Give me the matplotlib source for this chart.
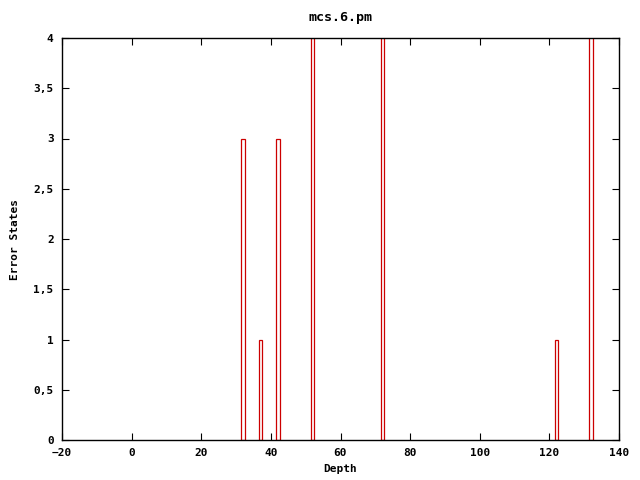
import matplotlib.pyplot as plt

depth = [32, 37, 42, 52, 72, 122, 132]
errors = [3, 1, 3, 5, 5, 1, 5]
xticks = [-20, 0, 20, 40, 60, 80, 100, 120, 140]
yticks = [0, 0.5, 1, 1.5, 2, 2.5, 3, 3.5, 4]
ylabels = ["0", "0,5", "1", "1,5", "2", "2,5", "3", "3,5", "4"]

plt.rcParams['font.family'] = 'DejaVu Sans Mono'
plt.rcParams['font.weight'] = 'bold'
plt.rcParams['axes.titleweight'] = 'bold'
plt.rcParams['axes.labelweight'] = 'bold'
plt.rcParams['font.size'] = 8

fig = plt.figure(figsize=(6.4, 4.8), dpi=100)
ax = fig.add_axes([62/640, 40/480, 557/640, 402/480])

ax.bar(depth, errors, width=1, facecolor='none', edgecolor='#cc0000', linewidth=0.9)

ax.set_xlim(-20, 140)
ax.set_ylim(0, 4)
ax.set_xticks(xticks)
ax.set_yticks(yticks)
ax.set_yticklabels(ylabels)
ax.tick_params(direction='in', top=True, right=True, length=5, width=0.8, pad=6)
for s in ax.spines.values():
    s.set_linewidth(1)

ax.set_xlabel("Depth", labelpad=4)
ax.set_ylabel("Error States", labelpad=10)
ax.set_title("mcs.6.pm", pad=12)

fig.savefig("out.png", dpi=100)
